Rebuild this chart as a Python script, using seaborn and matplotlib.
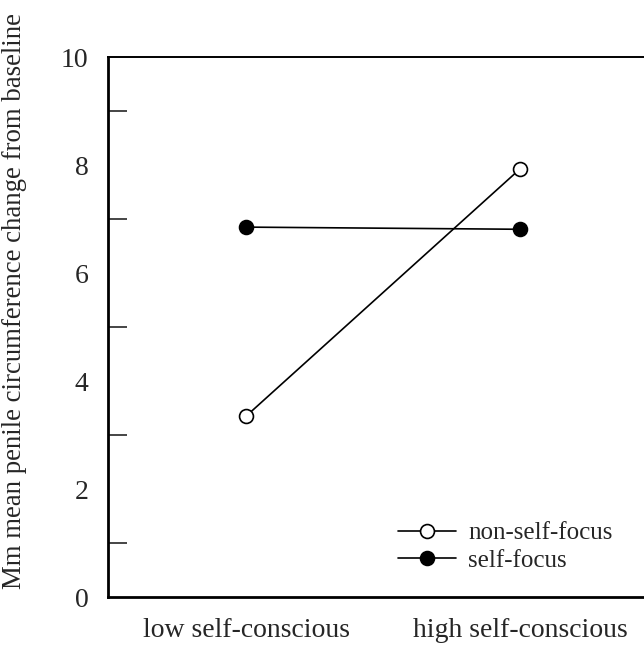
import matplotlib
matplotlib.use("Agg")
import matplotlib.pyplot as plt
import seaborn as sns
import pandas as pd
from matplotlib.ticker import MultipleLocator

# values
conditions = ["low self-conscious", "high self-conscious"]
non_self_focus = [3.35, 7.93]
self_focus = [6.85, 6.81]

df = pd.DataFrame({
    "condition": conditions * 2,
    "change": non_self_focus + self_focus,
    "group": ["non-self-focus"] * 2 + ["self-focus"] * 2,
})

sns.set_style("white")
plt.rcParams["font.family"] = ["Liberation Serif", "DejaVu Serif"]

fig = plt.figure(figsize=(6.44, 6.45), dpi=100)
ax = fig.add_axes([0.1677, 0.0744, 0.84, 0.8372])

faces = {"non-self-focus": "white", "self-focus": "black"}
for name in ["non-self-focus", "self-focus"]:
    sub = df[df["group"] == name]
    sns.lineplot(data=sub, x="condition", y="change", ax=ax, color="black",
                 linewidth=1.2, marker="o", markersize=10,
                 markerfacecolor=faces[name], markeredgecolor="black",
                 markeredgewidth=1.2, label=name, sort=False)

ax.set_xlim(-0.504, 1.47)
ax.set_ylim(0, 10)
ax.yaxis.set_major_locator(MultipleLocator(2))
ax.set_yticks([1, 3, 5, 7, 9], minor=True)
ax.tick_params(axis="y", which="major", length=0, labelsize=20, pad=14)
ax.tick_params(axis="y", which="minor", direction="in", length=14, width=1.2, left=True)
ax.tick_params(axis="x", length=0, labelsize=20, pad=15)

ax.set_xlabel("")
ax.set_ylabel("Mm mean penile circumference change from baseline", fontsize=19.3)
ax.yaxis.set_label_coords(-0.15, 0.548)

for side in ["left", "bottom"]:
    ax.spines[side].set_linewidth(2)
    ax.spines[side].set_color("black")
ax.spines["top"].set_linewidth(1.4)
ax.spines["top"].set_color("black")
ax.spines["right"].set_visible(False)

leg = ax.legend(loc="lower right", bbox_to_anchor=(0.974, 0.005), frameon=False,
                fontsize=18, handlelength=2.3, handletextpad=0.5, labelspacing=0.2)

fig.savefig("out.png", dpi=100, facecolor="white")
